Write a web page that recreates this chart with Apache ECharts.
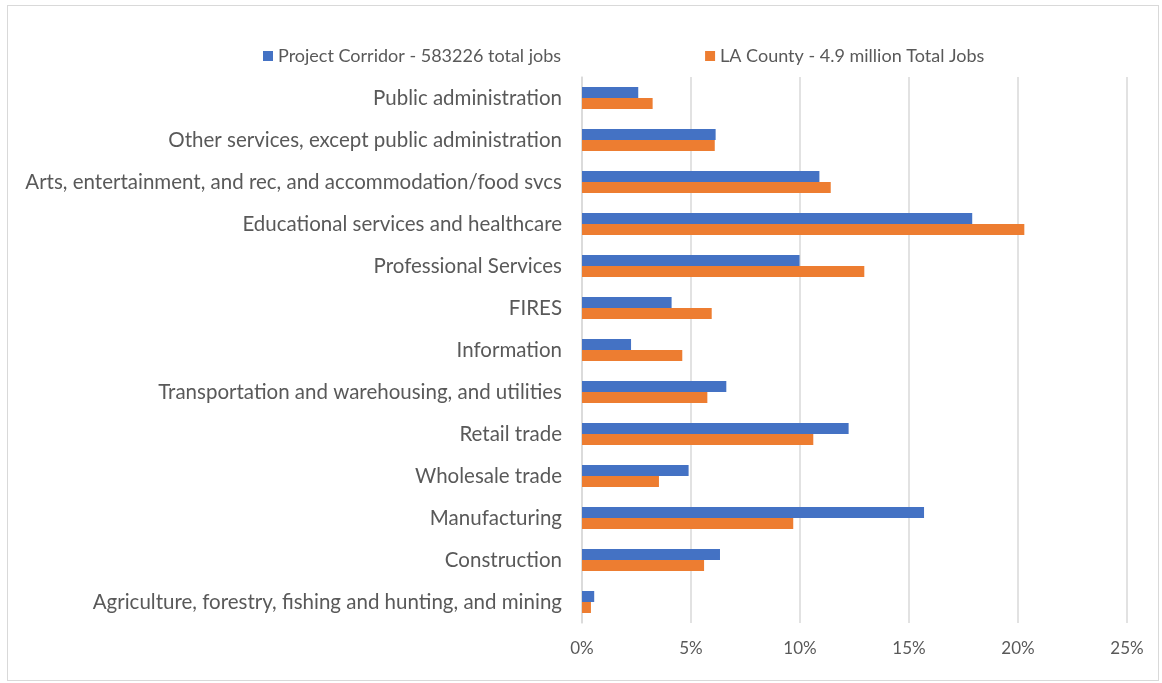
<!DOCTYPE html>
<html>
<head>
<meta charset="utf-8">
<script src="https://cdn.jsdelivr.net/npm/echarts@6/dist/echarts.min.js"></script>
<style>
html,body{margin:0;padding:0;background:#fff;}
#frame{position:absolute;left:7px;top:5px;width:1152px;height:676px;border:1px solid #d9d9d9;box-sizing:border-box;}
#chart{position:absolute;left:0;top:0;width:1162px;height:683px;}
</style>
</head>
<body>
<div id="frame"></div>
<div id="chart"></div>
<script>
const categories = [
  "Public administration",
  "Other services, except public administration",
  "Arts, entertainment, and rec, and accommodation/food svcs",
  "Educational services and healthcare",
  "Professional Services",
  "FIRES",
  "Information",
  "Transportation and warehousing, and utilities",
  "Retail trade",
  "Wholesale trade",
  "Manufacturing",
  "Construction",
  "Agriculture, forestry, fishing and hunting, and mining"
];
const seriesNames = ["Project Corridor - 583226 total jobs", "LA County - 4.9 million Total Jobs"];
const corridor = [2.58, 6.13, 10.89, 17.9, 9.98, 4.11, 2.25, 6.62, 12.23, 4.89, 15.69, 6.33, 0.56];
const laCounty = [3.24, 6.09, 11.41, 20.29, 12.95, 5.95, 4.6, 5.75, 10.61, 3.53, 9.69, 5.6, 0.41];
const xTicks = [0, 5, 10, 15, 20, 25];

const chart = echarts.init(document.getElementById('chart'), null, {renderer: 'canvas'});
const font = "Lato, 'Liberation Sans', Arial, sans-serif";
chart.setOption({
  animation: false,
  textStyle: {fontFamily: font},
  legend: {
    top: 42,
    left: 258,
    itemGap: 144,
    itemWidth: 10,
    itemHeight: 10,
    icon: 'rect',
    textStyle: {color: '#595959', fontSize: 18, fontFamily: font},
    data: seriesNames
  },
  grid: {left: 582, right: 35, top: 77, bottom: 60, containLabel: false},
  xAxis: {
    type: 'value',
    min: xTicks[0],
    max: xTicks[xTicks.length - 1],
    interval: 5,
    axisLine: {show: false},
    axisTick: {show: false},
    axisLabel: {color: '#595959', fontSize: 17, margin: 17, formatter: v => v + '%'},
    splitLine: {show: true, lineStyle: {color: '#d9d9d9', width: 1.5}}
  },
  yAxis: {
    type: 'category',
    inverse: true,
    data: categories,
    axisLine: {show: true, lineStyle: {color: '#d9d9d9', width: 1.5}},
    axisTick: {show: false},
    axisLabel: {color: '#595959', fontSize: 20.5, margin: 20}
  },
  series: [
    {name: seriesNames[0], type: 'bar', data: corridor, barWidth: 11, barGap: '0%', itemStyle: {color: '#4472c4'}},
    {name: seriesNames[1], type: 'bar', data: laCounty, barWidth: 11, barGap: '0%', itemStyle: {color: '#ed7d31'}}
  ]
});
</script>
</body>
</html>
